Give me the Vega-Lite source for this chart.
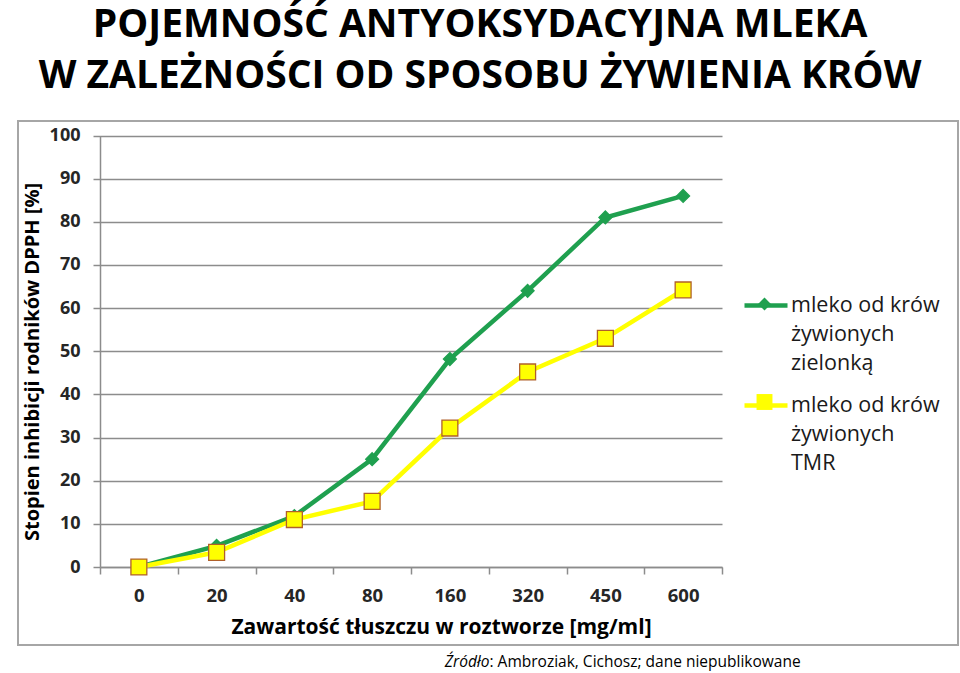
{
  "$schema": "https://vega.github.io/schema/vega-lite/v6.json",
  "autosize": {"type": "none"},
  "width": 940,
  "height": 524,
  "padding": {"left": 18, "top": 121, "right": 2, "bottom": 28},
  "background": "white",
  "config": {
    "view": {"stroke": "#A6A6A6", "strokeWidth": 2},
    "font": "Open Sans",
    "style": {"guide-label": {"lineHeight": 29}}
  },
  "title": {
    "text": ["POJEMNOŚĆ ANTYOKSYDACYJNA MLEKA", "W ZALEŻNOŚCI OD SPOSOBU ŻYWIENIA KRÓW"],
    "font": "Open Sans",
    "fontSize": 39,
    "fontWeight": "bold",
    "color": "#000000",
    "anchor": "middle",
    "frame": "group",
    "lineHeight": 51,
    "offset": 25,
    "dx": -8
  },
  "data": {
    "values": [
      {"x": "0", "seria": "mleko od krów żywionych zielonką", "v": 0},
      {"x": "20", "seria": "mleko od krów żywionych zielonką", "v": 4.9},
      {"x": "40", "seria": "mleko od krów żywionych zielonką", "v": 11.8},
      {"x": "80", "seria": "mleko od krów żywionych zielonką", "v": 25},
      {"x": "160", "seria": "mleko od krów żywionych zielonką", "v": 48.2},
      {"x": "320", "seria": "mleko od krów żywionych zielonką", "v": 64},
      {"x": "450", "seria": "mleko od krów żywionych zielonką", "v": 81},
      {"x": "600", "seria": "mleko od krów żywionych zielonką", "v": 86},
      {"x": "0", "seria": "mleko od krów żywionych TMR", "v": 0},
      {"x": "20", "seria": "mleko od krów żywionych TMR", "v": 3.4},
      {"x": "40", "seria": "mleko od krów żywionych TMR", "v": 11},
      {"x": "80", "seria": "mleko od krów żywionych TMR", "v": 15.2},
      {"x": "160", "seria": "mleko od krów żywionych TMR", "v": 32.2},
      {"x": "320", "seria": "mleko od krów żywionych TMR", "v": 45.2},
      {"x": "450", "seria": "mleko od krów żywionych TMR", "v": 53},
      {"x": "600", "seria": "mleko od krów żywionych TMR", "v": 64.2}
    ]
  },
  "resolve": {"axis": {"x": "independent", "y": "independent"}},
  "layer": [
    {
      "mark": {"type": "line", "strokeWidth": 4.5},
      "encoding": {
        "x": {
          "field": "x", "type": "ordinal",
          "sort": ["0", "20", "40", "80", "160", "320", "450", "600"],
          "scale": {"type": "band", "range": [82, 704], "paddingInner": 0, "paddingOuter": 0},
          "axis": {
            "orient": "bottom", "offset": -78,
            "title": "Zawartość tłuszczu w roztworze [mg/ml]",
            "titleFont": "Open Sans", "titleFontSize": 21, "titleFontWeight": "bold", "titleColor": "#000000",
            "titleX": 423, "titleY": 60, "titleAlign": "center", "titleBaseline": "middle",
            "labelFont": "Open Sans", "labelFontSize": 18.5, "labelFontWeight": "bold", "labelColor": "#262626",
            "labelAngle": 0, "labelPadding": 12,
            "tickBand": "extent", "tickSize": 7, "tickColor": "#8C8C8C", "tickWidth": 1.5,
            "domainColor": "#8C8C8C", "domainWidth": 1.5, "grid": false
          }
        },
        "y": {
          "field": "v", "type": "quantitative",
          "scale": {"domain": [0, 100], "range": [446, 14.5], "nice": false},
          "axis": {
            "orient": "left", "offset": -82,
            "values": [0, 10, 20, 30, 40, 50, 60, 70, 80, 90, 100],
            "title": "Stopien inhibicji rodników DPPH [%]",
            "titleFont": "Open Sans", "titleFontSize": 20, "titleFontWeight": "bold", "titleColor": "#000000",
            "titleX": -68, "titleY": 240.5, "titleAngle": 270, "titleAlign": "center", "titleBaseline": "middle",
            "labelFont": "Open Sans", "labelFontSize": 18, "labelFontWeight": "bold", "labelColor": "#262626",
            "labelPadding": 13,
            "tickSize": 7, "tickColor": "#8C8C8C", "tickWidth": 1.5,
            "domainColor": "#8C8C8C", "domainWidth": 1.5,
            "grid": true, "gridColor": "#8C8C8C", "gridWidth": 1.5
          }
        },
        "stroke": {
          "field": "seria", "type": "nominal",
          "sort": ["mleko od krów żywionych zielonką", "mleko od krów żywionych TMR"],
          "scale": {"range": ["#1FA04F", "#FFFF00"]},
          "legend": {
            "orient": "none", "legendX": 724, "legendY": 160.5,
            "title": null,
            "symbolType": "stroke", "symbolSize": 1849, "symbolStrokeWidth": 4.5,
            "labelFont": "Open Sans", "labelFontSize": 21.5, "labelColor": "#1A1A1A",
            "labelLimit": 400, "labelOffset": 1, "rowPadding": 7,
            "labelExpr": "['mleko od krów', 'żywionych', datum.label == 'mleko od krów żywionych TMR' ? 'TMR' : 'zielonką']"
          }
        }
      }
    },
    {
      "mark": {"type": "point", "filled": true, "size": 1849, "strokeWidth": 1.3, "opacity": 1},
      "encoding": {
        "x": {
          "field": "x", "type": "ordinal",
          "sort": ["0", "20", "40", "80", "160", "320", "450", "600"],
          "axis": {
            "orient": "bottom", "offset": -78,
            "title": "Źródło",
            "titleFont": "Open Sans", "titleFontSize": 15.5, "titleFontWeight": "normal", "titleFontStyle": "italic", "titleColor": "#000000",
            "titleX": 471, "titleY": 94, "titleAlign": "right", "titleBaseline": "middle",
            "labels": false, "ticks": false, "domain": false, "grid": false
          }
        },
        "y": {
          "field": "v", "type": "quantitative",
          "axis": {
            "orient": "right",
            "title": ": Ambroziak, Cichosz; dane niepublikowane",
            "titleFont": "Open Sans", "titleFontSize": 15.5, "titleFontWeight": "normal", "titleColor": "#000000",
            "titleX": -469, "titleY": 540, "titleAngle": 0, "titleAlign": "left", "titleBaseline": "middle",
            "labels": false, "ticks": false, "domain": false, "grid": false
          }
        },
        "fill": {
          "field": "seria", "type": "nominal",
          "scale": {
            "domain": ["mleko od krów żywionych zielonką", "mleko od krów żywionych TMR"],
            "range": ["#1FA04F", "#FFFF00"]
          },
          "legend": {
            "orient": "none", "legendX": 724, "legendY": 160.5,
            "title": null,
            "symbolSize": 1849, "symbolStrokeColor": "#B0602A", "symbolStrokeWidth": 1.3,
            "labelFont": "Open Sans", "labelFontSize": 21.5, "labelColor": "#1A1A1A", "labelOpacity": 0,
            "labelLimit": 400, "labelOffset": 1, "rowPadding": 7,
            "labelExpr": "['mleko od krów', 'żywionych', datum.label == 'mleko od krów żywionych TMR' ? 'TMR' : 'zielonką']"
          }
        },
        "shape": {
          "field": "seria", "type": "nominal",
          "scale": {
            "domain": ["mleko od krów żywionych zielonką", "mleko od krów żywionych TMR"],
            "range": ["M0,-0.3L0.3,0L0,0.3L-0.3,0Z", "M-0.37,-0.37L0.37,-0.37L0.37,0.37L-0.37,0.37Z"]
          },
          "legend": {
            "orient": "none", "legendX": 724, "legendY": 160.5,
            "title": null,
            "symbolSize": 1849, "symbolStrokeColor": "#B0602A", "symbolStrokeWidth": 1.3,
            "labelFont": "Open Sans", "labelFontSize": 21.5, "labelColor": "#1A1A1A", "labelOpacity": 0,
            "labelLimit": 400, "labelOffset": 1, "rowPadding": 7,
            "labelExpr": "['mleko od krów', 'żywionych', datum.label == 'mleko od krów żywionych TMR' ? 'TMR' : 'zielonką']"
          }
        },
        "stroke": {
          "condition": {"test": "datum.seria == 'mleko od krów żywionych TMR'", "value": "#B0602A"},
          "value": "#1FA04F"
        }
      }
    }
  ]
}
